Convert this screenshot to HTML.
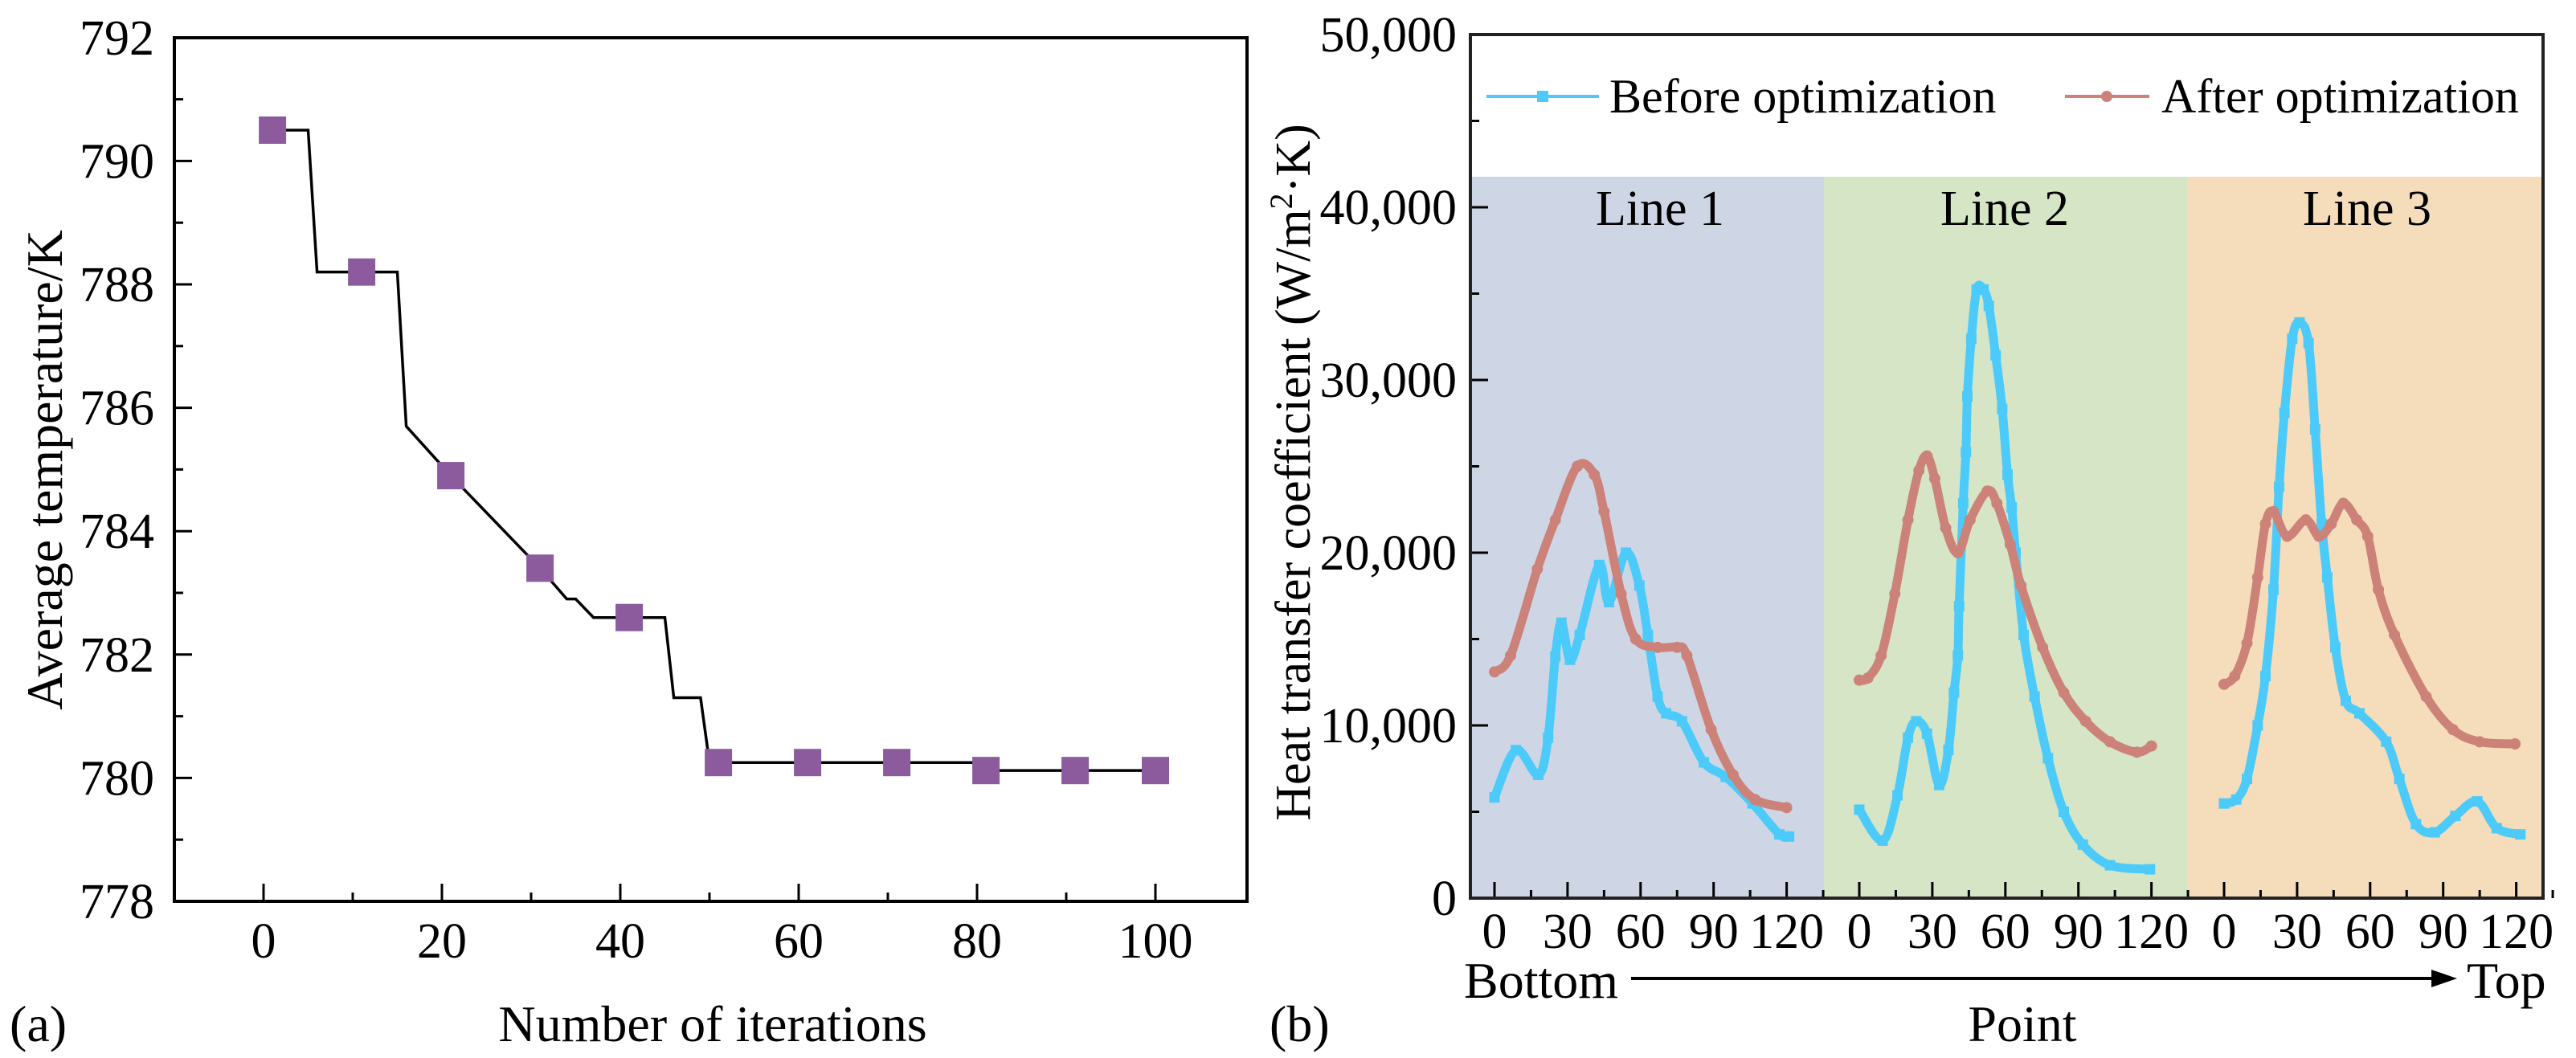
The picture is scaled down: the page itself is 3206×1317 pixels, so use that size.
<!DOCTYPE html>
<html>
<head>
<meta charset="utf-8">
<style>
html,body{margin:0;padding:0;background:#fff;}
svg, svg text{font-family:"Liberation Serif","Times New Roman",serif;}
svg{display:block;}
</style>
</head>
<body>
<svg id="fig" width="3206" height="1317" viewBox="0 0 3206 1317" font-family="Liberation Serif, Times New Roman, serif" xmlns="http://www.w3.org/2000/svg">
<rect x="0" y="0" width="3206" height="1317" fill="#ffffff"/>
<g id="chartA"></g>
<g id="chartB"></g>
</svg>
<script>
// ---------- Chart (a) data ----------
const iterLineX = [1,5,6,15,16,21,31,34,35,37,45,46,49,50,51,80,80.5,100];
const iterLineY = [790.5,790.5,788.2,788.2,785.7,784.9,783.4,782.9,782.9,782.6,782.6,781.3,781.3,780.25,780.25,780.25,780.12,780.12];
const markerX = [1,11,21,31,41,51,61,71,81,91,100];
const markerY = [790.5,788.2,784.9,783.4,782.6,780.25,780.25,780.25,780.12,780.12,780.12];
const aYTicks = [778,780,782,784,786,788,790,792];
const aXTicks = [0,20,40,60,80,100];

// ---------- Chart (b) data ----------
const bYTicks = [0,10000,20000,30000,40000,50000];
const bXTicks = [0,30,60,90,120];
const lineNames = ["Line 1","Line 2","Line 3"];
const before1X = [0,8.8,18,22,25,27.5,31,35,43,47,54,59.5,63,67,70.5,77,86,95,106,117,121];
const before1Y = [5830,8570,7140,9290,14000,15950,13800,15240,19290,17140,20000,18100,15240,11670,10700,10240,7860,7020,5480,3690,3570];
const after1X = [0,6.6,17.6,25,34,41,45,52,58,67,75,79,89,98,107,120];
const after1Y = [13100,14050,19050,21900,25000,24520,22380,17620,15000,14520,14520,14050,9760,7140,5710,5240];
const before2X = [0,9.6,15.7,20,23.4,27.8,32.8,36.6,38.9,40.5,41,42.7,43.8,44.4,46,48.2,51,53.2,56,58.7,60.9,62.6,64.2,67.5,72,77.5,84,91.8,103,119.4];
const before2Y = [5120,3330,5950,9290,10240,9520,6550,8570,11900,14050,16900,22860,25830,29050,32380,35240,35240,34290,31430,28330,24520,22620,20000,15240,11670,8100,5000,3100,1900,1670];
const after2X = [0,3.5,9,14.6,20,24.5,27.8,31,35.5,40.5,45.5,52.6,56.5,62,66.4,75.3,84,93,103,114,120];
const after2Y = [12620,12740,14050,17620,21900,24760,25600,24290,21430,20000,21900,23570,22860,20480,18100,14520,11900,10240,9050,8450,8810];
const before3X = [0,5,9.4,13.8,17,20.3,22.6,24.8,28,31,34.7,37.4,40.1,42.4,45.7,50,55.6,66.6,72,78.8,86.5,95,104,112,121.7];
const before3Y = [5480,5710,6900,10000,12860,17860,23810,28100,32380,33330,32140,27140,21670,18570,14520,11430,10700,9050,6900,4290,3810,4760,5600,4050,3690];
const after3X = [0,4.4,9.4,13.8,17,20.3,25.9,33.6,39,44,49,54.5,59,63.4,70,83,94,105,119.5];
const after3Y = [12380,12860,14760,18570,21670,22380,20950,21900,20950,21670,22860,21900,20950,17860,15240,11670,9760,9050,8930];

const NS = "http://www.w3.org/2000/svg";
function mk(parent, tag, attrs, text) {
  const el = document.createElementNS(NS, tag);
  for (const k in attrs) el.setAttribute(k, attrs[k]);
  if (text !== undefined) el.textContent = text;
  parent.appendChild(el);
  return el;
}
function smoothPath(pts) {
  let d = 'M' + pts[0][0] + ',' + pts[0][1];
  for (let i = 0; i < pts.length - 1; i++) {
    const p0 = pts[i - 1] || pts[i], p1 = pts[i], p2 = pts[i + 1], p3 = pts[i + 2] || p2;
    const c1x = p1[0] + (p2[0] - p0[0]) / 6, c1y = p1[1] + (p2[1] - p0[1]) / 6;
    const c2x = p2[0] - (p3[0] - p1[0]) / 6, c2y = p2[1] - (p3[1] - p1[1]) / 6;
    d += ' C' + c1x + ',' + c1y + ' ' + c2x + ',' + c2y + ' ' + p2[0] + ',' + p2[1];
  }
  return d;
}

// ===== Chart (a) =====
const A = document.getElementById('chartA');
const aL = 217, aR = 1552, aT = 47, aB = 1122;
const xA = i => 328 + i * 11.1;
const yA = t => aB - (t - 778) * 76.8;

for (let v = 778; v <= 792; v += 1) {
  const major = (v % 2 === 0);
  const t = mk(A, 'line', {x1: aL, x2: aL + (major ? 22 : 11), y1: yA(v), y2: yA(v), stroke: '#000', 'stroke-width': 3});
  
  
}
aYTicks.forEach(v => {
  const t = mk(A, 'text', {x: 192, y: yA(v) + 21, 'font-size': 62, 'text-anchor': 'end', fill: '#000'}, String(v));
  
  
});
for (let v = 0; v <= 100; v += 10) {
  const major = (v % 20 === 0);
  const t = mk(A, 'line', {x1: xA(v), x2: xA(v), y1: aB, y2: aB - (major ? 22 : 11), stroke: '#000', 'stroke-width': 3});
  
  
}
aXTicks.forEach(v => {
  const t = mk(A, 'text', {x: xA(v), y: 1192, 'font-size': 62, 'text-anchor': 'middle', fill: '#000'}, String(v));
  
  
});
const aPts = iterLineX.map((x, i) => xA(x) + ',' + yA(iterLineY[i])).join(' ');
const aLine = mk(A, 'polyline', {points: aPts, fill: 'none', stroke: '#000', 'stroke-width': 3.5, 'stroke-linejoin': 'miter'});


markerX.forEach((x, i) => {
  const m = mk(A, 'rect', {x: xA(x) - 17, y: yA(markerY[i]) - 17, width: 34, height: 34, fill: '#8b5b9e'});
  
  
});
const aFrame = mk(A, 'rect', {x: aL, y: aT, width: aR - aL, height: aB - aT, fill: 'none', stroke: '#000', 'stroke-width': 4});


const aYT = mk(A, 'text', {x: 0, y: 0, 'font-size': 64, 'text-anchor': 'middle', fill: '#000', transform: 'translate(77,585) rotate(-90)'}, 'Average temperature/K');


const aXT = mk(A, 'text', {x: 887, y: 1296, 'font-size': 64, 'text-anchor': 'middle', fill: '#000'}, 'Number of iterations');


const aLab = mk(A, 'text', {x: 12, y: 1296, 'font-size': 64, fill: '#000'}, '(a)');



// ===== Chart (b) =====
const B = document.getElementById('chartB');
const bL = 1830, bR = 3165, bT = 43, bB = 1118, bandTop = 220;
const zeros = [1860, 2314, 2768];
const bands = [[1830, 2270, '#ced6e6'], [2270, 2722, '#d5e5c6'], [2722, 3165, '#f5dcba']];
const xB = (p, u) => zeros[p] + u * 3.03;
const yB = v => bB - v * 0.0215;

bands.forEach((b, i) => {
  const r = mk(B, 'rect', {x: b[0], y: bandTop, width: b[1] - b[0], height: bB - bandTop, fill: b[2]});
  
  
  const t = mk(B, 'text', {x: [2066, 2495, 2946][i], y: 280, 'font-size': 62, 'text-anchor': 'middle', fill: '#000'}, lineNames[i]);
  
  
});

for (let v = 0; v <= 50000; v += 5000) {
  const major = (v % 10000 === 0);
  const t = mk(B, 'line', {x1: bL, x2: bL + (major ? 22 : 11), y1: yB(v), y2: yB(v), stroke: '#000', 'stroke-width': 3});
  
  
}
bYTicks.forEach(v => {
  const s = v === 0 ? '0' : v.toLocaleString('en-US');
  const t = mk(B, 'text', {x: 1813, y: yB(v) + 21, 'font-size': 62, 'text-anchor': 'end', fill: '#000'}, s);
  
  
});
for (let p = 0; p < 3; p++) {
  for (let u = 0; u <= 135; u += 15) {
    const major = (u % 30 === 0);
    const t = mk(B, 'line', {x1: xB(p, u), x2: xB(p, u), y1: bB, y2: bB - (major ? 20 : 10), stroke: '#000', 'stroke-width': 3});
    
    
  }
  bXTicks.forEach(u => {
    const t = mk(B, 'text', {x: xB(p, u), y: 1180, 'font-size': 62, 'text-anchor': 'middle', fill: '#000'}, String(u));
    
    
  });
}

const series = [
  [0, before1X, before1Y, 'before'], [0, after1X, after1Y, 'after'],
  [1, before2X, before2Y, 'before'], [1, after2X, after2Y, 'after'],
  [2, before3X, before3Y, 'before'], [2, after3X, after3Y, 'after']
];
series.forEach(s => {
  const p = s[0], xs = s[1], ys = s[2], kind = s[3];
  const col = kind === 'before' ? '#4ccbfa' : '#cc8279';
  const pts = xs.map((x, i) => [xB(p, x), yB(ys[i])]);
  const pl = mk(B, 'path', {d: smoothPath(pts), fill: 'none', stroke: col, 'stroke-width': 11, 'stroke-linejoin': 'round', 'stroke-linecap': 'round'});
  
  
  xs.forEach((x, i) => {
    let m;
    if (kind === 'before') {
      m = mk(B, 'rect', {x: xB(p, x) - 6.5, y: yB(ys[i]) - 6.5, width: 13, height: 13, fill: col});
    } else {
      m = mk(B, 'circle', {cx: xB(p, x), cy: yB(ys[i]), r: 7, fill: col});
    }
    
    
  });
});

const bFrame = mk(B, 'rect', {x: bL, y: bT, width: bR - bL, height: bB - bT, fill: 'none', stroke: '#222', 'stroke-width': 4});



const lg = mk(B, 'g', {});


const l1 = mk(lg, 'line', {x1: 1850, x2: 1990, y1: 120, y2: 120, stroke: '#4ccbfa', 'stroke-width': 4});


const m1 = mk(lg, 'rect', {x: 1913, y: 113, width: 14, height: 14, fill: '#4ccbfa'});


const t1 = mk(lg, 'text', {x: 2003, y: 140, 'font-size': 60, fill: '#000'}, 'Before optimization');


const l2 = mk(lg, 'line', {x1: 2570, x2: 2675, y1: 120, y2: 120, stroke: '#cc8279', 'stroke-width': 4});


const m2 = mk(lg, 'circle', {cx: 2622, cy: 120, r: 7, fill: '#cc8279'});


const t2 = mk(lg, 'text', {x: 2690, y: 140, 'font-size': 60, fill: '#000'}, 'After optimization');



const bYT = mk(B, 'text', {x: 0, y: 0, 'font-size': 62, 'text-anchor': 'middle', fill: '#000', transform: 'translate(1630,588) rotate(-90)'});


bYT.appendChild(document.createTextNode('Heat transfer coefficient (W/m'));
const sup = mk(bYT, 'tspan', {'font-size': 40, dy: -22}, '2');


const restUnit = mk(bYT, 'tspan', {dy: 22}, '·K)');



const bottomLabel = mk(B, 'text', {x: 1822, y: 1242, 'font-size': 64, fill: '#000'}, 'Bottom');


const arrowLine = mk(B, 'line', {x1: 2030, x2: 3030, y1: 1218, y2: 1218, stroke: '#000', 'stroke-width': 4});


const arrowHead = mk(B, 'polygon', {points: '3026,1207 3058,1218 3026,1229', fill: '#000'});


const topLabel = mk(B, 'text', {x: 3070, y: 1242, 'font-size': 64, fill: '#000'}, 'Top');


const pointTitle = mk(B, 'text', {x: 2517, y: 1296, 'font-size': 64, 'text-anchor': 'middle', fill: '#000'}, 'Point');


const bLab = mk(B, 'text', {x: 1580, y: 1296, 'font-size': 64, fill: '#000'}, '(b)');


</script>
</body>
</html>
